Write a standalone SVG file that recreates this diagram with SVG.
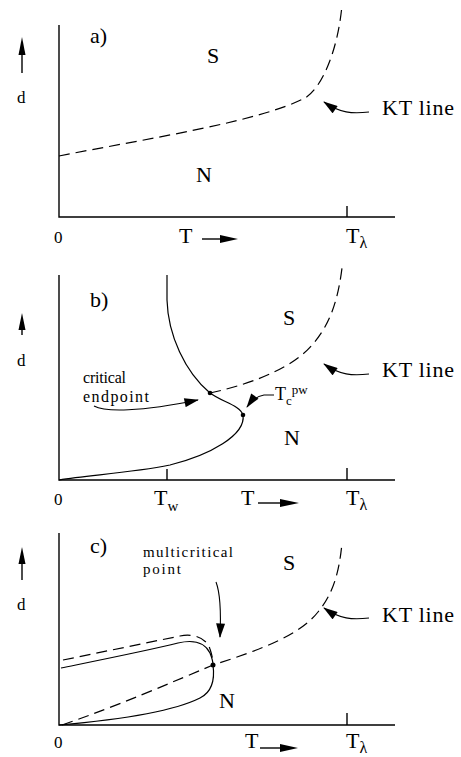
<svg xmlns="http://www.w3.org/2000/svg" width="461" height="757" viewBox="0 0 461 757">
<style>
text{font-family:"Liberation Serif","Times New Roman",serif;fill:#000}
.lbl{font-size:22px}
.num{font-size:17px}
.sm{font-size:16px}
.ax{stroke:#000;stroke-width:1.4;fill:none}
.sol{stroke:#000;stroke-width:1.2;fill:none}
.dash{stroke:#000;stroke-width:1.2;fill:none;stroke-dasharray:11 6}
.ptr{stroke:#000;stroke-width:1.1;fill:none;marker-end:url(#ah)}
.head{fill:#000}
</style>
<defs>
<marker id="ah" viewBox="0 0 16 10" refX="15" refY="5" markerWidth="16" markerHeight="9" markerUnits="userSpaceOnUse" orient="auto">
<path d="M0,0 L16,5 L0,10 z" fill="#000"/>
</marker>
</defs>
<rect width="461" height="757" fill="#fff"/>

<!-- Panel a -->
<g id="panel-a">
  <g id="a-axes">
    <path class="ax" d="M59,25 V217 H395"/>
    <path class="ax" d="M347,206 V217"/>
    <path class="ax" d="M22,73 V52"/>
    <polygon class="head" points="22,37 18.5,55 25.5,55"/>
    <path class="ax" d="M202,239 H222"/>
    <polygon class="head" points="220,235 238,239 220,243"/>
  </g>
  <g id="a-labels">
    <text class="lbl" x="90" y="43">a)</text>
    <text class="lbl" x="207" y="63">S</text>
    <text class="lbl" x="196" y="182">N</text>
    <text class="num" x="17" y="103">d</text>
    <text class="num" x="54" y="243">0</text>
    <text class="lbl" x="179" y="243">T</text>
    <text class="lbl" x="346" y="243">T<tspan font-size="16" dy="5">λ</tspan></text>
    <text class="lbl" x="382" y="115" textLength="72">KT line</text>
  </g>
  <g id="a-curves">
    <path class="dash" d="M59,156 C150,138 258,122 305,98 C322,88 338,50 342,5"/>
  </g>
  <g id="a-connectors">
    <path class="ptr" d="M369,112 C352,114 340,113 324,102"/>
  </g>
</g>

<!-- Panel b -->
<g id="panel-b">
  <g id="b-axes">
    <path class="ax" d="M59,275 V480 H395"/>
    <path class="ax" d="M167,469 V480"/>
    <path class="ax" d="M347,468 V480"/>
    <path class="ax" d="M22,335 V328"/>
    <polygon class="head" points="22,313 18.5,330 25.5,330"/>
    <path class="ax" d="M258,503 H282"/>
    <polygon class="head" points="280,499 299,503 280,507"/>
  </g>
  <g id="b-labels">
    <text class="lbl" x="90" y="307">b)</text>
    <text class="lbl" x="283" y="325">S</text>
    <text class="lbl" x="284" y="445">N</text>
    <text class="num" x="17" y="366">d</text>
    <text class="num" x="54" y="505">0</text>
    <text class="lbl" x="154" y="505">T<tspan font-size="15" dy="6">w</tspan></text>
    <text class="lbl" x="241" y="505">T</text>
    <text class="lbl" x="346" y="505">T<tspan font-size="16" dy="5">λ</tspan></text>
    <text class="lbl" x="382" y="377" textLength="72">KT line</text>
    <text class="sm" x="83" y="383" textLength="43">critical</text>
    <text class="sm" x="83" y="402" textLength="66">endpoint</text>
    <text x="275" y="400" font-size="18">T<tspan font-size="13" dy="5">c</tspan><tspan font-size="13" dy="-11">pw</tspan></text>
  </g>
  <g id="b-curves">
    <path class="sol" d="M167,275 L167,300 C168,335 185,372 210,393 C222,402 240,405 243,415 C246,435 210,455 170,465 C130,473 90,475 59,480"/>
    <path class="dash" d="M210,393 C260,382 295,365 312,345 C330,325 338,300 342,268"/>
    <circle cx="210" cy="393" r="2.3"/>
    <circle cx="243" cy="415" r="2.3"/>
  </g>
  <g id="b-connectors">
    <path class="ptr" d="M369,374 C352,376 340,375 324,364"/>
    <path class="ptr" d="M94,406 C105,412 140,412 198,400"/>
    <path class="ptr" d="M274,395 L264,395 C258,396 252,400 247,407"/>
  </g>
</g>

<!-- Panel c -->
<g id="panel-c">
  <g id="c-axes">
    <path class="ax" d="M59,533 V725 H395"/>
    <path class="ax" d="M347,713 V725"/>
    <path class="ax" d="M22,580 V562"/>
    <polygon class="head" points="22,547 18.5,564 25.5,564"/>
    <path class="ax" d="M260,748 H282"/>
    <polygon class="head" points="280,744 298,748 280,752"/>
  </g>
  <g id="c-labels">
    <text class="lbl" x="90" y="553">c)</text>
    <text class="lbl" x="283" y="570">S</text>
    <text class="lbl" x="219" y="708">N</text>
    <text class="num" x="17" y="610">d</text>
    <text class="num" x="54" y="748">0</text>
    <text class="lbl" x="245" y="748">T</text>
    <text class="lbl" x="346" y="748">T<tspan font-size="16" dy="5">λ</tspan></text>
    <text class="lbl" x="382" y="622" textLength="72">KT line</text>
    <text x="143" y="557" font-size="15" textLength="90">multicritical</text>
    <text x="143" y="574" font-size="15" textLength="38">point</text>
  </g>
  <g id="c-curves">
    <path class="dash" d="M62,725 C120,705 170,683 213,665 C260,650 300,635 318,612 C332,595 339,575 342,543"/>
    <path class="dash" d="M63,660 L180,636 C195,633 207,639 210,649 C212,655 213,660 213,663"/>
    <path class="sol" d="M61,668 C110,658 150,650 178,643 C195,639 205,643 210,653 C212,658 213,662 213,665 C215,680 212,692 200,698 C180,708 140,718 59,725"/>
    <circle cx="213" cy="665" r="2.5"/>
  </g>
  <g id="c-connectors">
    <path class="ptr" d="M216,582 C221,595 221,615 220,637"/>
    <path class="ptr" d="M369,618 C352,620 340,619 324,608"/>
  </g>
</g>
</svg>
